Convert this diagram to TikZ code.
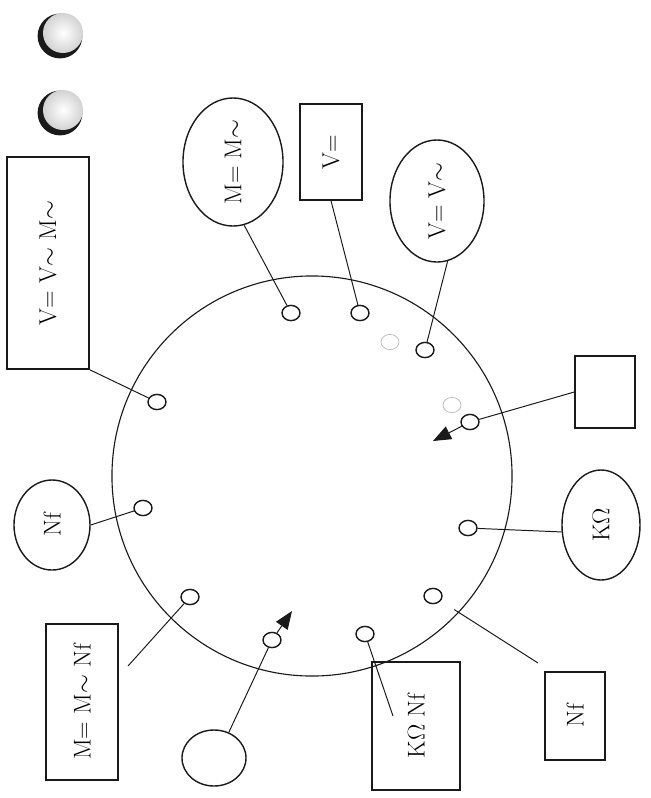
\documentclass[tikz,border=0pt]{standalone}
\usepackage{xcolor}
\definecolor{skink}{HTML}{1A1A1A}
\usepackage{graphicx}
\usepackage{tikz}
\usetikzlibrary{arrows.meta,positioning,shapes.geometric,calc}
\newcommand{\up}[1]{\rotatebox{90}{\LARGE #1}}

\begin{document}
\begin{tikzpicture}[x=0.025cm,y=-0.025cm,>={Triangle[length=4.5mm,width=3.5mm]}]
\tikzset{
 bx/.style={draw=skink,line width=1pt,inner sep=0pt},
 ov/.style={draw=skink,ellipse,line width=1pt,inner sep=0pt},
 hole/.style={draw=skink,ellipse,line width=1pt,minimum width=0.45cm,minimum height=0.38cm,inner sep=0pt},
 ln/.style={draw=skink,line width=0.7pt}
}
\useasboundingbox (0,0) rectangle (651,798);
% dial
\node[draw=skink,circle,line width=0.8pt,minimum size=10cm,inner sep=0pt] (dial) at (312,476) {};
% two spheres
\foreach \y in {36,113}{
 \fill[skink] (60,\y) circle (0.56cm);
 \shade[inner color=white,outer color=gray!35] (63,\y-3) circle (0.5cm);
}
% labels round the dial
\node[bx,minimum width=2.05cm,minimum height=5.3cm] (r1) at (48,263) {\up{V= V$\sim$ M$\sim$}};
\node[ov,minimum width=2.5cm,minimum height=3.2cm] (e1) at (233,162) {\up{M= M$\sim$}};
\node[bx,minimum width=1.55cm,minimum height=2.4cm] (r2) at (331,152) {\up{V=}};
\node[ov,minimum width=2.35cm,minimum height=3.05cm] (e2) at (437,201) {\up{V= V$\sim$}};
\node[bx,minimum width=1.5cm,minimum height=1.8cm] (r3) at (605,392) {};
\node[ov,minimum width=1.95cm,minimum height=2.75cm] (e3) at (601,525) {\up{K$\Omega$}};
\node[bx,minimum width=1.5cm,minimum height=2.2cm] (r4) at (575,716) {\up{Nf}};
\node[bx,minimum width=2.2cm,minimum height=3.2cm] (r5) at (416,726) {\up{K$\Omega$ Nf}};
\node[ov,minimum width=1.6cm,minimum height=1.4cm] (e4) at (214,758) {};
\node[bx,minimum width=1.8cm,minimum height=3.9cm] (r6) at (82,702) {\up{M= M$\sim$ Nf}};
\node[ov,minimum width=1.9cm,minimum height=2.25cm] (e5) at (52,525) {\up{Nf}};
% holes on the dial
\foreach \n/\x/\y in {p1/157/402,p2/291/313,p3/360/313,p4/425/350,p5/470/422,p6/468/528,
 p7/433/596,p8/365/634,p9/272/640,p10/190/597,p11/143/508}{\node[hole] (\n) at (\x,\y) {};}
\foreach \n/\x/\y in {f1/390/342,f2/452/405}{\node[hole,draw=gray!55,line width=0.5pt] (\n) at (\x,\y) {};}
\coordinate (c7) at (538,663);
\coordinate (c8) at (393,716);
\coordinate (c10) at (128,666);
\coordinate (a1) at (433,441);
\coordinate (a2) at (292,611);
\foreach \i/\j in {r1.south east/p1,e1.-80/p2,r2.south/p3,e2.-80/p4,r3.west/p5,e3.190/p6,
 e5.east/p11,c8/p8,c10/p10,e4.60/p9}{\draw[ln] (\i)--(\j);}
\draw[ln,shorten >=4mm] (c7)--(p7);
\draw[ln,->] (p5)--(a1);
\draw[ln,->] (p9)--(a2);
\end{tikzpicture}
\end{document}
